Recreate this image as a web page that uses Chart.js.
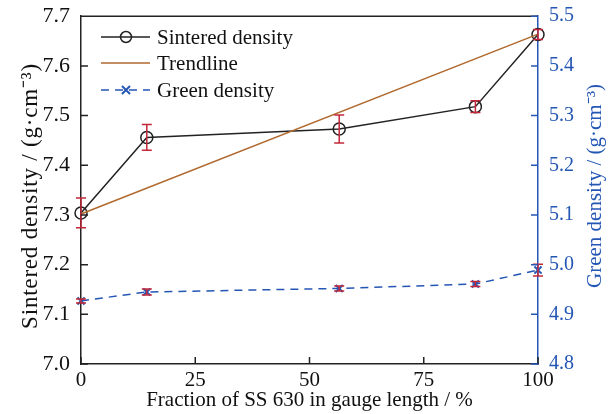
<!DOCTYPE html>
<html>
<head>
<meta charset="utf-8">
<script src="https://cdn.jsdelivr.net/npm/chart.js@4/dist/chart.umd.min.js"></script>
<style>
  html, body { margin: 0; padding: 0; background: #fff; }
  #wrap { width: 612px; height: 414px; position: relative; }
</style>
</head>
<body>
<div id="wrap"><canvas id="c" width="612" height="414"></canvas></div>
<script>
// 數據
const FRACTION = [0, 14.4, 56.5, 86.3, 100];              // x: SS 630 佔比 %
const SINTERED = [7.304, 7.456, 7.473, 7.518, 7.663];      // 燒結密度
const SINTERED_ERR = [0.030, 0.026, 0.028, 0.012, 0.010];
const GREEN_D = [4.927, 4.945, 4.952, 4.961, 4.989];       // 生坯密度
const GREEN_ERR = [0.004, 0.006, 0.005, 0.005, 0.012];
const TREND_X = [0, 100];
const TREND_Y = [7.302, 7.664];
const X_TICKS = [0, 25, 50, 75, 100];
const LEGEND = ['Sintered density', 'Trendline', 'Green density'];
const Y_TITLE = 'Sintered density / (g·cm⁻³)';
const Y2_TITLE = 'Green density / (g·cm⁻³)';
const X_TITLE = 'Fraction of SS 630 in gauge length / %';

const FONT = "'Liberation Serif', 'Times New Roman', serif";
const INK = '#222', BROWN = '#b0692e', BLUE = '#2456b4', ERR = '#c3283a';

const pts = (xs, ys) => xs.map((x, i) => ({ x, y: ys[i] }));

// 誤差棒
const errorBars = {
  id: 'errorBars',
  afterDatasetsDraw(chart) {
    const { ctx, scales } = chart;
    const draw = (ys, errs, yScale) => {
      ys.forEach((v, i) => {
        const px = scales.x.getPixelForValue(FRACTION[i]);
        const top = yScale.getPixelForValue(v + errs[i]);
        const bot = yScale.getPixelForValue(v - errs[i]);
        ctx.beginPath();
        ctx.moveTo(px, top); ctx.lineTo(px, bot);
        ctx.moveTo(px - 5, top); ctx.lineTo(px + 5, top);
        ctx.moveTo(px - 5, bot); ctx.lineTo(px + 5, bot);
        ctx.stroke();
      });
    };
    ctx.save();
    ctx.strokeStyle = ERR;
    ctx.lineWidth = 1.5;
    draw(SINTERED, SINTERED_ERR, scales.y);
    draw(GREEN_D, GREEN_ERR, scales.y2);
    ctx.restore();
  },
};

// 向內的刻度 + 上框線 + 兩個 y 軸標題(都由下往上讀)
const frame = {
  id: 'frame',
  afterDraw(chart) {
    const { ctx, chartArea: a, scales } = chart;
    ctx.save();
    ctx.lineWidth = 1.5;
    ctx.strokeStyle = INK;
    ctx.beginPath();
    ctx.moveTo(a.left, a.top); ctx.lineTo(a.right, a.top);
    scales.x.ticks.forEach((t) => {
      const px = scales.x.getPixelForValue(t.value);
      ctx.moveTo(px, a.bottom); ctx.lineTo(px, a.bottom - 7);
    });
    scales.y.ticks.forEach((t) => {
      const py = scales.y.getPixelForValue(t.value);
      ctx.moveTo(a.left, py); ctx.lineTo(a.left + 7, py);
    });
    ctx.stroke();
    ctx.strokeStyle = BLUE;
    ctx.beginPath();
    scales.y2.ticks.forEach((t) => {
      const py = scales.y2.getPixelForValue(t.value);
      ctx.moveTo(a.right, py); ctx.lineTo(a.right - 7, py);
    });
    ctx.stroke();

    ctx.textAlign = 'center';
    ctx.textBaseline = 'middle';
    ctx.translate(31, 196);
    ctx.rotate(-Math.PI / 2);
    ctx.fillStyle = '#111';
    ctx.font = '23px ' + FONT;
    ctx.letterSpacing = '0.8px';
    ctx.fillText(Y_TITLE, 0, 0);
    ctx.setTransform(1, 0, 0, 1, 0, 0);
    ctx.translate(595, 186);
    ctx.rotate(-Math.PI / 2);
    ctx.fillStyle = BLUE;
    ctx.font = '21px ' + FONT;
    ctx.letterSpacing = '0px';
    ctx.fillText(Y2_TITLE, 0, 0);
    ctx.restore();
  },
};

// 圖例:線 + 標記
const legendBox = {
  id: 'legendBox',
  afterDraw(chart) {
    const { ctx } = chart;
    const x0 = 101, x1 = 150, mid = 126, tx = 157;
    const rows = [37, 63, 90];
    ctx.save();
    ctx.lineWidth = 1.5;
    ctx.strokeStyle = INK;
    ctx.beginPath(); ctx.moveTo(x0, rows[0]); ctx.lineTo(x1, rows[0]); ctx.stroke();
    ctx.beginPath(); ctx.arc(mid, rows[0], 5.5, 0, Math.PI * 2); ctx.stroke();
    ctx.strokeStyle = BROWN;
    ctx.beginPath(); ctx.moveTo(x0, rows[1]); ctx.lineTo(x1, rows[1]); ctx.stroke();
    ctx.strokeStyle = BLUE;
    ctx.setLineDash([8, 6]);
    ctx.beginPath(); ctx.moveTo(x0, rows[2]); ctx.lineTo(x1, rows[2]); ctx.stroke();
    ctx.setLineDash([]);
    ctx.lineWidth = 2;
    ctx.beginPath();
    ctx.moveTo(mid - 4, rows[2] - 4); ctx.lineTo(mid + 4, rows[2] + 4);
    ctx.moveTo(mid - 4, rows[2] + 4); ctx.lineTo(mid + 4, rows[2] - 4);
    ctx.stroke();
    ctx.fillStyle = '#111';
    ctx.font = '21px ' + FONT;
    ctx.textBaseline = 'middle';
    LEGEND.forEach((s, i) => ctx.fillText(s, tx, rows[i] + 1));
    ctx.restore();
  },
};

new Chart(document.getElementById('c'), {
  type: 'line',
  data: {
    datasets: [
      {
        label: LEGEND[1], data: pts(TREND_X, TREND_Y), yAxisID: 'y',
        borderColor: BROWN, borderWidth: 1.5, pointRadius: 0, clip: false,
      },
      {
        label: LEGEND[0], data: pts(FRACTION, SINTERED), yAxisID: 'y',
        borderColor: INK, borderWidth: 1.5, pointStyle: 'circle', pointRadius: 6,
        pointBorderColor: INK, pointBackgroundColor: 'rgba(0,0,0,0)', pointBorderWidth: 1.5, clip: false,
      },
      {
        label: LEGEND[2], data: pts(FRACTION, GREEN_D), yAxisID: 'y2',
        borderColor: BLUE, borderWidth: 1.5, borderDash: [8, 6],
        pointStyle: 'crossRot', pointRadius: 5, pointBorderColor: BLUE, pointBorderWidth: 2, clip: false,
      },
    ],
  },
  options: {
    responsive: false, animation: false,
    layout: { padding: { top: 12, left: 0, right: 0, bottom: 0 } },
    plugins: { legend: { display: false }, tooltip: { enabled: false } },
    scales: {
      x: {
        type: 'linear', min: 0, max: 100,
        afterBuildTicks: (s) => { s.ticks = X_TICKS.map((v) => ({ value: v })); },
        grid: { display: false },
        border: { color: INK, width: 1.5 },
        ticks: { color: '#111', font: { family: FONT, size: 21 }, padding: -4, maxRotation: 0 },
        title: { display: true, text: X_TITLE, color: '#111', font: { family: FONT, size: 21 }, padding: { top: 0, bottom: 1 } },
        afterFit: (s) => { s.height = 50; },
      },
      y: {
        position: 'left', min: 7.0, max: 7.7,
        grid: { display: false },
        border: { color: INK, width: 1.5 },
        ticks: { stepSize: 0.1, color: '#111', font: { family: FONT, size: 22 }, padding: 3, callback: (v) => v.toFixed(1) },
        afterFit: (s) => { s.width = 81; },
      },
      y2: {
        position: 'right', min: 4.8, max: 5.5,
        grid: { display: false },
        border: { color: BLUE, width: 1.5 },
        ticks: { stepSize: 0.1, color: BLUE, font: { family: FONT, size: 20 }, padding: 3, callback: (v) => v.toFixed(1) },
        afterFit: (s) => { s.width = 74; },
      },
    },
  },
  plugins: [errorBars, frame, legendBox],
});
</script>
</body>
</html>
